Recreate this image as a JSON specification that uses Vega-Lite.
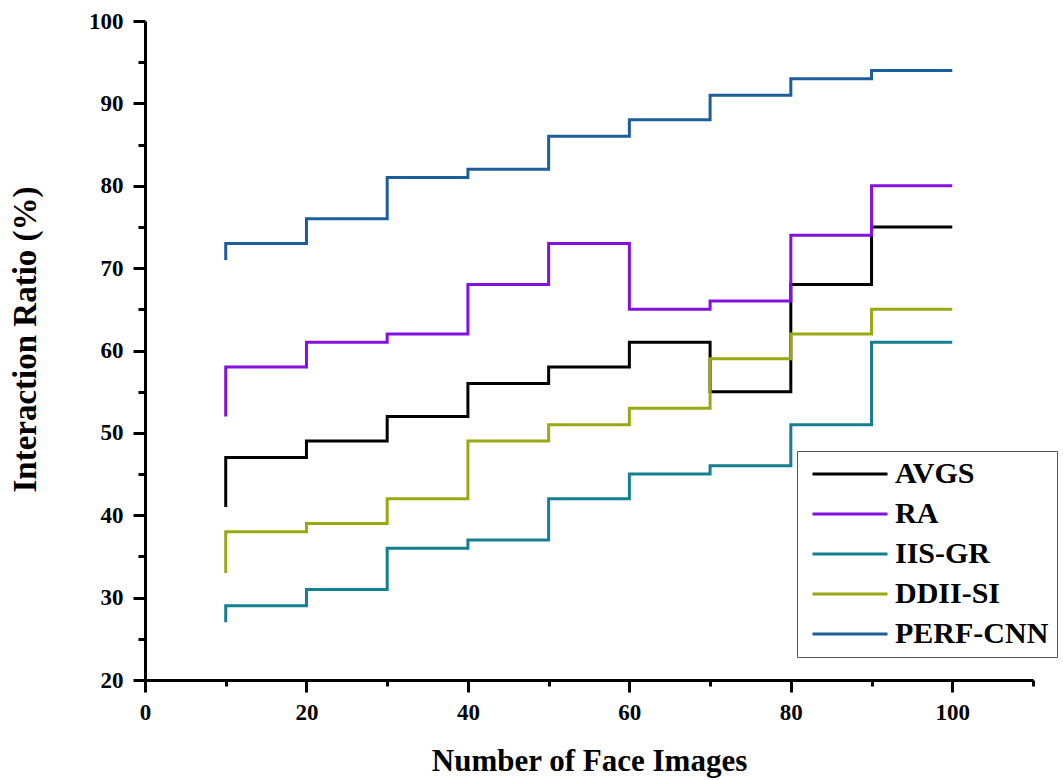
{
  "$schema": "https://vega.github.io/schema/vega-lite/v6.json",
  "width": 888,
  "height": 659,
  "autosize": "none",
  "padding": {"left": 145, "top": 21, "right": 30, "bottom": 100},
  "background": "white",
  "config": {
    "font": "Liberation Serif",
    "view": {"stroke": null},
    "axis": {
      "domainColor": "black", "domainWidth": 3, "tickColor": "black", "tickWidth": 3,
      "labelFont": "Liberation Serif", "labelFontWeight": "bold", "labelFontSize": 23, "labelColor": "black",
      "titleFont": "Liberation Serif", "titleFontWeight": "bold", "titleColor": "black",
      "labelFlush": false,
      "grid": false
    }
  },
  "data": {
    "values": [
      {"x": 10, "y": 41, "s": "AVGS"}, {"x": 20, "y": 47, "s": "AVGS"}, {"x": 30, "y": 49, "s": "AVGS"}, {"x": 40, "y": 52, "s": "AVGS"}, {"x": 50, "y": 56, "s": "AVGS"}, {"x": 60, "y": 58, "s": "AVGS"}, {"x": 70, "y": 61, "s": "AVGS"}, {"x": 80, "y": 55, "s": "AVGS"}, {"x": 90, "y": 68, "s": "AVGS"}, {"x": 100, "y": 75, "s": "AVGS"},
      {"x": 10, "y": 52, "s": "RA"}, {"x": 20, "y": 58, "s": "RA"}, {"x": 30, "y": 61, "s": "RA"}, {"x": 40, "y": 62, "s": "RA"}, {"x": 50, "y": 68, "s": "RA"}, {"x": 60, "y": 73, "s": "RA"}, {"x": 70, "y": 65, "s": "RA"}, {"x": 80, "y": 66, "s": "RA"}, {"x": 90, "y": 74, "s": "RA"}, {"x": 100, "y": 80, "s": "RA"},
      {"x": 10, "y": 27, "s": "IIS-GR"}, {"x": 20, "y": 29, "s": "IIS-GR"}, {"x": 30, "y": 31, "s": "IIS-GR"}, {"x": 40, "y": 36, "s": "IIS-GR"}, {"x": 50, "y": 37, "s": "IIS-GR"}, {"x": 60, "y": 42, "s": "IIS-GR"}, {"x": 70, "y": 45, "s": "IIS-GR"}, {"x": 80, "y": 46, "s": "IIS-GR"}, {"x": 90, "y": 51, "s": "IIS-GR"}, {"x": 100, "y": 61, "s": "IIS-GR"},
      {"x": 10, "y": 33, "s": "DDII-SI"}, {"x": 20, "y": 38, "s": "DDII-SI"}, {"x": 30, "y": 39, "s": "DDII-SI"}, {"x": 40, "y": 42, "s": "DDII-SI"}, {"x": 50, "y": 49, "s": "DDII-SI"}, {"x": 60, "y": 51, "s": "DDII-SI"}, {"x": 70, "y": 53, "s": "DDII-SI"}, {"x": 80, "y": 59, "s": "DDII-SI"}, {"x": 90, "y": 62, "s": "DDII-SI"}, {"x": 100, "y": 65, "s": "DDII-SI"},
      {"x": 10, "y": 71, "s": "PERF-CNN"}, {"x": 20, "y": 73, "s": "PERF-CNN"}, {"x": 30, "y": 76, "s": "PERF-CNN"}, {"x": 40, "y": 81, "s": "PERF-CNN"}, {"x": 50, "y": 82, "s": "PERF-CNN"}, {"x": 60, "y": 86, "s": "PERF-CNN"}, {"x": 70, "y": 88, "s": "PERF-CNN"}, {"x": 80, "y": 91, "s": "PERF-CNN"}, {"x": 90, "y": 93, "s": "PERF-CNN"}, {"x": 100, "y": 94, "s": "PERF-CNN"}
    ]
  },
  "layer": [
    {
      "mark": {"type": "line", "interpolate": "step-before", "strokeWidth": 3},
      "encoding": {
        "x": {"field": "x", "type": "quantitative", "scale": {"domain": [0, 110], "nice": false},
              "axis": {"orient": "bottom", "values": [0, 20, 40, 60, 80, 100], "tickSize": 12, "labelPadding": 9, "title": "Number of Face Images", "titleFontSize": 31, "titlePadding": 22}},
        "y": {"field": "y", "type": "quantitative", "scale": {"domain": [20, 100], "nice": false, "zero": false},
              "axis": {"orient": "left", "values": [20, 30, 40, 50, 60, 70, 80, 90, 100], "tickSize": 12, "labelPadding": 10, "title": "Interaction Ratio (%)", "titleFontSize": 33, "titlePadding": 46, "titleY": 318}},
        "color": {"field": "s", "type": "nominal",
                  "scale": {"domain": ["AVGS", "RA", "IIS-GR", "DDII-SI", "PERF-CNN"], "range": ["#000000", "#8410e0", "#137f8f", "#9aa814", "#1c5d9c"]},
                  "legend": {"orient": "none", "legendX": 652, "legendY": 430, "title": null, "symbolType": "M-5,0H5", "symbolSize": 225, "symbolStrokeWidth": 3, "symbolOffset": 30, "labelFont": "Liberation Serif", "labelFontWeight": "bold", "labelFontSize": 30, "labelColor": "black", "labelOffset": 30, "rowPadding": 10, "padding": 8, "strokeColor": "#555555", "fillColor": "white", "labelLimit": 400}}
      }
    },
    {
      "mark": {"type": "line", "opacity": 0},
      "encoding": {
        "x": {"field": "x", "type": "quantitative",
              "axis": {"orient": "bottom", "values": [10, 30, 50, 70, 90, 110], "tickSize": 6, "labels": false, "domain": false, "title": null}},
        "y": {"field": "y", "type": "quantitative",
              "axis": {"orient": "left", "values": [25, 35, 45, 55, 65, 75, 85, 95], "tickSize": 7, "labels": false, "domain": false, "title": null}}
      }
    }
  ],
  "resolve": {"axis": {"x": "independent", "y": "independent"}}
}
